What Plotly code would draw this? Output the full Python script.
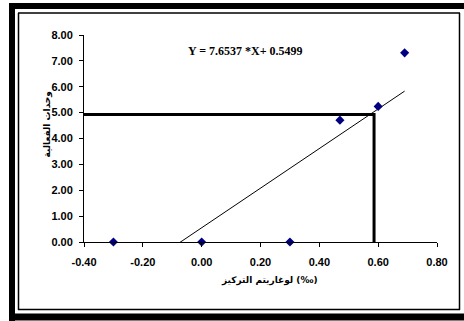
import plotly.graph_objects as go

# Data
log_conc = [-0.30, 0.00, 0.30, 0.47, 0.60, 0.69]
activity = [0.00, 0.00, 0.00, 4.71, 5.24, 7.31]
slope = 7.6537
intercept = 0.5499
trend_x = [-0.30, 0.69]
trend_y = [slope * v + intercept for v in trend_x]
read_x = 0.586
read_y = 4.93

x_tickvals = [-0.4, -0.2, 0.0, 0.2, 0.4, 0.6, 0.8]
x_ticktext = ["-0.40", "-0.20", "0.00", "0.20", "0.40", "0.60", "0.80"]
y_tickvals = [0, 1, 2, 3, 4, 5, 6, 7, 8]
y_ticktext = ["0.00", "1.00", "2.00", "3.00", "4.00", "5.00", "6.00", "7.00", "8.00"]

equation = "Y = 7.6537 *X+ 0.5499"
x_title = "لوغاريتم التركيز (‰)"
y_title = "وحدات الفعالية"

W, H = 464, 321
L, R, T, B = 84, 27, 35, 79
PW, PH = W - L - R, H - T - B

def px(x):
    return (x - L) / PW

def py(y):
    return (H - B - y) / PH

fig = go.Figure()

fig.add_trace(go.Scatter(
    x=trend_x, y=trend_y, mode="lines",
    line=dict(color="black", width=1), hoverinfo="skip", showlegend=False))

fig.add_trace(go.Scatter(
    x=[-0.4, read_x, read_x], y=[read_y, read_y, 0], mode="lines",
    line=dict(color="black", width=3), showlegend=False))

fig.add_trace(go.Scatter(
    x=log_conc, y=activity, mode="markers", cliponaxis=False,
    marker=dict(symbol="diamond", size=7, color="#000080"),
    showlegend=False))

axis_font = dict(family="Liberation Sans, Arial", size=11, color="black", weight="bold")
fig.update_xaxes(range=[-0.4, 0.8], tickvals=x_tickvals, ticktext=x_ticktext,
                 showgrid=False, zeroline=False, showline=True, linecolor="black",
                 linewidth=1, ticks="outside", ticklen=4, tickcolor="black",
                 tickfont=axis_font, ticklabelstandoff=6)
fig.update_yaxes(range=[0, 8], tickvals=y_tickvals, ticktext=y_ticktext,
                 showgrid=False, zeroline=False, showline=True, linecolor="black",
                 linewidth=1, ticks="outside", ticklen=4, tickcolor="black",
                 tickfont=axis_font, ticklabelstandoff=4)

def hline(y, x0, x1, w):
    return dict(type="line", xref="paper", yref="paper", x0=px(x0), x1=px(x1),
                y0=py(y), y1=py(y), line=dict(color="black", width=w))

def vline(x, y0, y1, w):
    return dict(type="line", xref="paper", yref="paper", x0=px(x), x1=px(x),
                y0=py(y0), y1=py(y1), line=dict(color="black", width=w))

shapes = [
    # thick outer frame (left, top, bottom)
    vline(12, 3, 321, 6),
    hline(6, 9, 470, 6),
    hline(317, 9, 470, 7),
    # thin inner frame
    hline(13, 18, 460, 1.5),
    hline(309.5, 18, 460, 1.5),
    vline(18.5, 13, 310, 1.5),
    vline(459.5, 13, 310, 1.5),
]

annotations = [
    dict(text="<b>" + equation + "</b>", xref="paper", yref="paper",
         x=px(245), y=py(42), showarrow=False,
         font=dict(family="Liberation Serif, Times New Roman", size=12, color="black")),
    dict(text="<b>" + x_title + "</b>", xref="paper", yref="paper",
         x=px(269), y=py(288), showarrow=False,
         font=dict(family="DejaVu Sans", size=9, color="black")),
    dict(text="<b>" + y_title + "</b>", xref="paper", yref="paper",
         x=px(39), y=py(125), showarrow=False, textangle=-90,
         font=dict(family="DejaVu Sans", size=9, color="black")),
]

fig.update_layout(width=W, height=H, margin=dict(l=L, r=R, t=T, b=B),
                  paper_bgcolor="white", plot_bgcolor="white",
                  shapes=shapes, annotations=annotations, showlegend=False)

fig.write_html("out.html", config={"displayModeBar": False},
               post_script="document.body.style.margin='0';document.body.style.overflow='hidden';")
